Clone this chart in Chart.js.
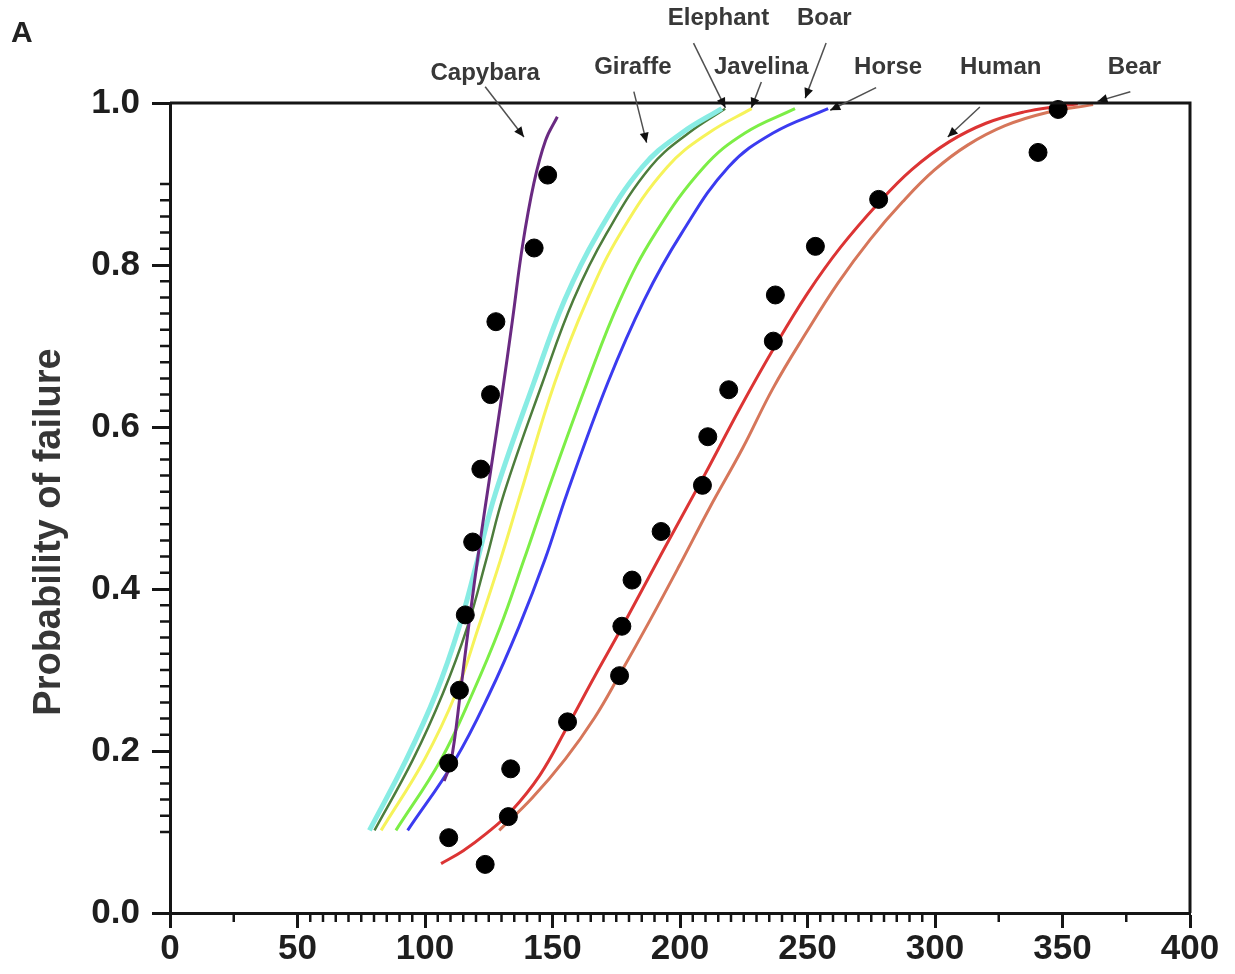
<!DOCTYPE html>
<html>
<head>
<meta charset="utf-8">
<script src="https://cdn.jsdelivr.net/npm/chart.js@4.4.1/dist/chart.umd.min.js"></script>
<style>
  html, body { margin: 0; padding: 0; background: #fff; }
  canvas { display: block; }
</style>
</head>
<body>
<canvas id="weibullChart" width="1235" height="974"></canvas>
<script>
// curve values (x = load, y = probability of failure)
const capybaraX = [107.5, 110.2, 114.0, 117.6, 121.5, 125.8, 130.3, 134.3, 138.2, 142.7, 147.3, 151.9];
const capybaraY = [0.163, 0.187, 0.275, 0.366, 0.456, 0.547, 0.642, 0.732, 0.823, 0.901, 0.954, 0.983];

const fanY = [0.102, 0.189, 0.271, 0.353, 0.436, 0.518, 0.654, 0.757, 0.839, 0.921, 0.963, 0.993];
const giraffeX = [78.2, 92.6, 104.3, 113.4, 120.6, 127.6, 142.6, 154.8, 167.8, 185.2, 200.7, 216.4];
const elephantX = [80.2, 95.2, 107.0, 116.6, 124.0, 131.0, 146.0, 158.2, 171.2, 188.4, 203.4, 217.7];
const javelinaX = [82.8, 99.7, 112.1, 121.0, 129.6, 137.5, 150.8, 163.6, 176.6, 195.0, 211.2, 228.1];
const boarX = [88.6, 106.2, 118.6, 129.5, 138.8, 147.8, 163.5, 176.5, 190.3, 209.4, 225.5, 245.1];
const horseX = [93.2, 111.8, 125.3, 136.8, 147.0, 155.7, 171.6, 186.0, 200.6, 219.0, 236.5, 258.1];

const humanX = [106.3, 115, 124, 133.6, 145, 155.8, 166.5, 177.3, 193, 209.5, 224, 237.3, 250, 263, 277.7, 291, 305.5, 320, 335, 348.3, 356];
const humanY = [0.061, 0.077, 0.098, 0.125, 0.170, 0.230, 0.292, 0.353, 0.445, 0.540, 0.626, 0.700, 0.765, 0.822, 0.876, 0.918, 0.952, 0.975, 0.989, 0.996, 0.999];

const bearX = [129.1, 142, 155, 166.5, 176.3, 188, 199.6, 211.6, 224.6, 236.5, 249.4, 262, 274.7, 287.3, 299.7, 312.8, 327.5, 343.6, 362];
const bearY = [0.102, 0.142, 0.190, 0.241, 0.294, 0.360, 0.428, 0.500, 0.574, 0.648, 0.716, 0.778, 0.832, 0.878, 0.917, 0.948, 0.972, 0.988, 0.998];

const dotX = [148.1, 142.8, 127.8, 125.7, 121.9, 118.7, 115.8, 113.5, 109.3, 109.3, 123.6, 133.6, 132.7, 155.9,
              176.3, 177.2, 181.2, 192.6, 208.8, 210.9, 219.1, 236.6, 237.4, 253.1, 277.9, 340.4, 348.3];
const dotY = [0.911, 0.821, 0.730, 0.640, 0.548, 0.458, 0.368, 0.275, 0.185, 0.093, 0.060, 0.178, 0.119, 0.236,
              0.293, 0.354, 0.411, 0.471, 0.528, 0.588, 0.646, 0.706, 0.763, 0.823, 0.881, 0.939, 0.992];

const xTickLabels = [0, 50, 100, 150, 200, 250, 300, 350, 400];
const yTickLabels = ['0.0', '0.2', '0.4', '0.6', '0.8', '1.0'];
const yTitle = 'Probability of failure';

// callout labels: text, label centre, line start, arrow tip (data units)
const notes = [
    ['Capybara', 123.6, 1.036, 123.6, 1.020, 138.8, 0.958],
    ['Giraffe',  181.5, 1.044, 181.9, 1.014, 186.9, 0.951],
    ['Elephant', 215.1, 1.105, 205.3, 1.074, 217.8, 0.994],
    ['Javelina', 231.9, 1.044, 231.9, 1.026, 228.0, 0.994],
    ['Boar',     256.6, 1.105, 257.3, 1.074, 249.1, 1.006],
    ['Horse',    281.6, 1.044, 276.9, 1.019, 258.9, 0.991],
    ['Human',    325.8, 1.044, 317.6, 0.995, 305.0, 0.958],
    ['Bear',     378.2, 1.044, 376.6, 1.014, 363.7, 1.002]
];

const FONT = '"Liberation Sans", Arial, sans-serif';

function pts(xs, ys) {
    return xs.map((x, i) => ({ x: x, y: ys[i] }));
}

function curve(label, xs, ys, color, width) {
    return {
        label: label,
        data: pts(xs, ys),
        showLine: true,
        borderColor: color,
        borderWidth: width,
        pointRadius: 0,
        tension: 0.4,
        clip: false,
        order: 2
    };
}

const frameAndNotes = {
    id: 'frameAndNotes',
    afterDraw(chart) {
        const ctx = chart.ctx;
        const a = chart.chartArea;
        const xs = chart.scales.x, ys = chart.scales.y;
        ctx.save();

        // top and right frame
        ctx.strokeStyle = '#151515';
        ctx.lineWidth = 3;
        ctx.beginPath();
        ctx.moveTo(a.left, a.top);
        ctx.lineTo(a.right, a.top);
        ctx.lineTo(a.right, a.bottom);
        ctx.stroke();

        // minor ticks
        ctx.lineWidth = 2.5;
        ctx.beginPath();
        for (let v = 5; v < 400; v += 5) {
            if (v % 50 === 0) continue;
            if (v < 50 && v !== 25) continue;
            if (v > 300 && v % 25 !== 0) continue;
            const px = xs.getPixelForValue(v);
            ctx.moveTo(px, a.bottom);
            ctx.lineTo(px, a.bottom + 9);
        }
        for (let k = 5; k <= 45; k++) {
            if (k % 10 === 0) continue;
            const py = ys.getPixelForValue(k * 0.02);
            ctx.moveTo(a.left, py);
            ctx.lineTo(a.left - 10, py);
        }
        ctx.stroke();

        // y axis title
        ctx.save();
        ctx.translate(50, (a.top + a.bottom) / 2 + 24);
        ctx.rotate(-Math.PI / 2);
        ctx.fillStyle = '#363636';
        ctx.font = 'bold 38px ' + FONT;
        ctx.textAlign = 'center';
        ctx.textBaseline = 'middle';
        ctx.fillText(yTitle, 0, 0);
        ctx.restore();

        // callouts
        ctx.font = 'bold 24px ' + FONT;
        ctx.textAlign = 'center';
        ctx.textBaseline = 'middle';
        notes.forEach(n => {
            ctx.fillStyle = '#383838';
            ctx.fillText(n[0], xs.getPixelForValue(n[1]), ys.getPixelForValue(n[2]));
            const x1 = xs.getPixelForValue(n[3]), y1 = ys.getPixelForValue(n[4]);
            const x2 = xs.getPixelForValue(n[5]), y2 = ys.getPixelForValue(n[6]);
            ctx.strokeStyle = '#505050';
            ctx.lineWidth = 1.5;
            ctx.beginPath();
            ctx.moveTo(x1, y1);
            ctx.lineTo(x2, y2);
            ctx.stroke();
            const ang = Math.atan2(y2 - y1, x2 - x1);
            ctx.fillStyle = '#111';
            ctx.beginPath();
            ctx.moveTo(x2, y2);
            ctx.lineTo(x2 - 10 * Math.cos(ang) + 4.5 * Math.sin(ang), y2 - 10 * Math.sin(ang) - 4.5 * Math.cos(ang));
            ctx.lineTo(x2 - 10 * Math.cos(ang) - 4.5 * Math.sin(ang), y2 - 10 * Math.sin(ang) + 4.5 * Math.cos(ang));
            ctx.closePath();
            ctx.fill();
        });

        // panel letter
        ctx.fillStyle = '#222';
        ctx.font = 'bold 30px ' + FONT;
        ctx.textAlign = 'left';
        ctx.fillText('A', 11, 34);
        ctx.restore();
    }
};

const ctx = document.getElementById('weibullChart').getContext('2d');
const chart = new Chart(ctx, {
    type: 'scatter',
    data: {
        datasets: [
            {
                label: 'Data',
                data: pts(dotX, dotY),
                backgroundColor: '#000',
                borderColor: '#000',
                pointRadius: 9,
                clip: false,
                order: 1
            },
            curve('Capybara', capybaraX, capybaraY, '#6a2a82', 3),
            curve('Giraffe', giraffeX, fanY, '#88ece4', 5),
            curve('Elephant', elephantX, fanY, '#4d7d3c', 2.5),
            curve('Javelina', javelinaX, fanY, '#f6f35a', 3),
            curve('Boar', boarX, fanY, '#7cee46', 3),
            curve('Horse', horseX, fanY, '#3b3bf0', 3),
            curve('Human', humanX, humanY, '#dc3434', 3),
            curve('Bear', bearX, bearY, '#d6765a', 3)
        ]
    },
    options: {
        responsive: false,
        animation: false,
        layout: { padding: { top: 103, right: 45, left: 0, bottom: 0 } },
        plugins: {
            legend: { display: false },
            tooltip: { enabled: false }
        },
        scales: {
            x: {
                type: 'linear',
                min: 0,
                max: 400,
                afterFit: s => { s.height = 61; },
                afterBuildTicks: s => { s.ticks = xTickLabels.map(v => ({ value: v })); },
                ticks: {
                    color: '#1e1e1e',
                    font: { family: FONT, size: 35, weight: 'bold' },
                    padding: 0,
                    maxRotation: 0,
                    autoSkip: false
                },
                grid: { drawOnChartArea: false, tickLength: 15, tickWidth: 3, tickColor: '#151515' },
                border: { width: 3, color: '#151515' }
            },
            y: {
                min: 0,
                max: 1,
                afterFit: s => { s.width = 170; },
                afterBuildTicks: s => { s.ticks = yTickLabels.map(t => ({ value: parseFloat(t) })); },
                ticks: {
                    color: '#1e1e1e',
                    font: { family: FONT, size: 35, weight: 'bold' },
                    padding: 12,
                    autoSkip: false,
                    callback: (v, i) => yTickLabels[i]
                },
                grid: { drawOnChartArea: false, tickLength: 18, tickWidth: 3, tickColor: '#151515' },
                border: { width: 3, color: '#151515' }
            }
        }
    },
    plugins: [frameAndNotes]
});
</script>
</body>
</html>
